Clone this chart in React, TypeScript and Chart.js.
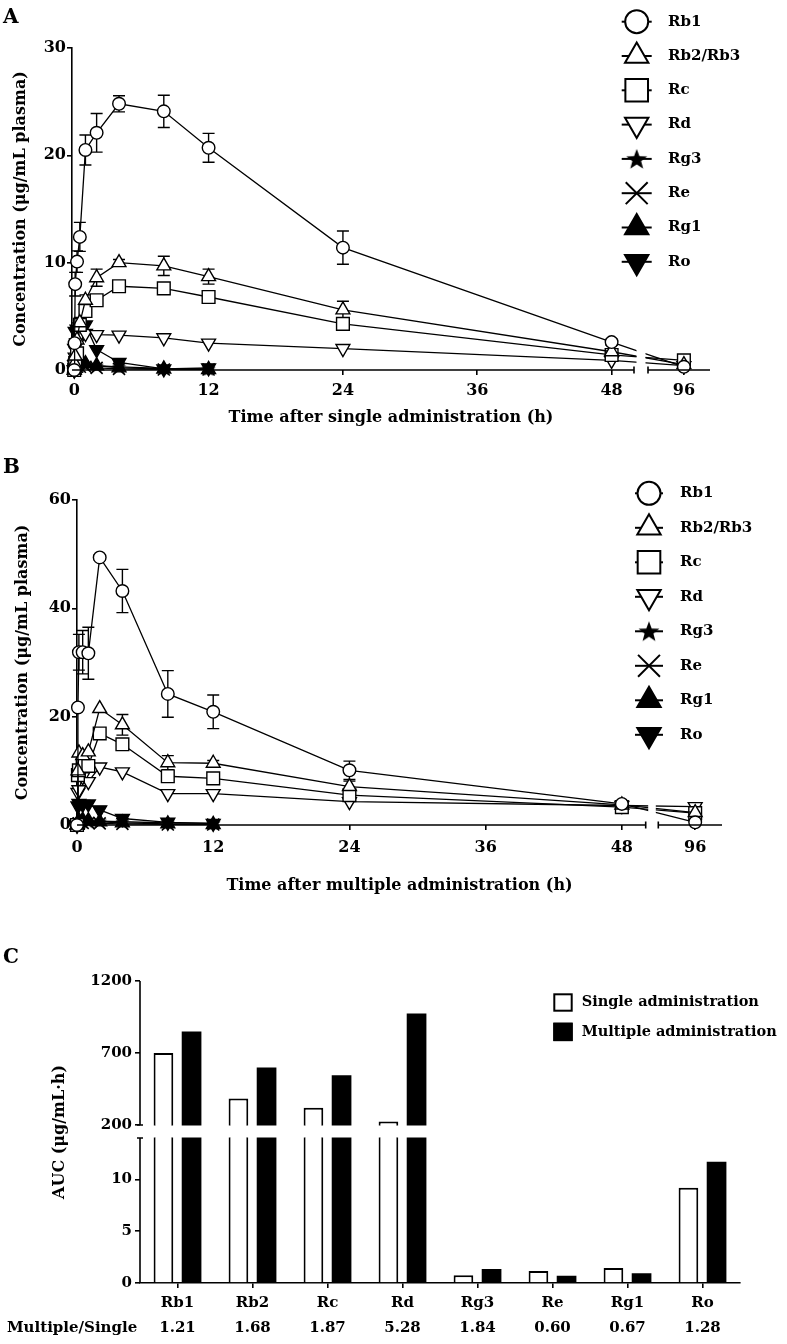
import React, { useEffect, useRef } from 'react';
import { Chart, registerables, LinearScale } from 'chart.js';
import { drawPoint } from 'chart.js/helpers';

Chart.register(...registerables);

// ---------------- data ----------------
const seriesNames = ['Rb1', 'Rb2/Rb3', 'Rc', 'Rd', 'Rg3', 'Re', 'Rg1', 'Ro'];

const timeTicks = [0, 12, 24, 36, 48, 96];

// Panel A: single administration
const timesA = [0, 0.033, 0.083, 0.25, 0.5, 1, 2, 4, 8, 12, 24, 48, 96];
const rb1A = [0, 2.5, 8.0, 10.1, 12.4, 20.5, 22.1, 24.8, 24.1, 20.7, 11.4, 2.6, 0.3];
const rb2A = [0, 0.6, 1.3, 2.8, 4.4, 6.5, 8.6, 10.0, 9.7, 8.7, 5.6, 1.7, 0.5];
const rcA = [0, 0.4, 0.65, 1.55, 4.2, 5.5, 6.5, 7.8, 7.6, 6.8, 4.3, 1.4, 0.9];
const rdA = [0, 0.5, 1.2, 2.5, 3.3, 3.4, 3.3, 3.25, 3.0, 2.5, 2.0, 0.9, 0.4];
const rg3A = [0, 0.1, 0.2, 0.3, 0.4, 0.5, 0.4, 0.3, 0.15, 0.1, null, null, null];
const reA = [0, 0.1, 0.2, 0.3, 0.3, 0.3, 0.2, 0.1, 0.05, 0.05, null, null, null];
const rg1A = [0, 0.2, 0.4, 0.5, 0.6, 0.6, 0.4, 0.2, 0.1, 0.05, null, null, null];
const roA = [0, 2.0, 3.6, 3.8, 4.0, 4.2, 1.9, 0.7, 0.1, 0.2, null, null, null];
const rb1ASd = [0, 0.4, 1.1, 1.0, 1.35, 1.4, 1.8, 0.75, 1.5, 1.35, 1.55, 0.3, 0.1];
const rb2ASd = [0, 0, 0, 0.3, 0.5, 0.5, 0.8, 0.3, 0.9, 0.7, 0.8, 0.2, 0.1];
const zeroA = [0, 0, 0, 0, 0, 0, 0, 0, 0, 0, 0, 0, 0];

// Panel B: multiple administration
const timesB = [0, 0.083, 0.167, 0.5, 1, 2, 4, 8, 12, 24, 48, 96];
const rb1B = [0, 21.7, 31.9, 31.9, 31.7, 49.4, 43.2, 24.2, 20.9, 10.1, 3.9, 0.5];
const rb2B = [0, 10.0, 13.3, 12.8, 13.5, 21.5, 18.5, 11.5, 11.4, 7.1, 3.7, 2.3];
const rcB = [0, 9.2, 10.1, 11.0, 10.9, 16.9, 14.9, 9.0, 8.6, 5.5, 3.3, 2.2];
const rdB = [0, 6.0, 6.5, 8.9, 8.0, 10.7, 9.8, 5.8, 5.8, 4.3, 3.6, 3.4];
const rg3B = [0, 0.3, 0.5, 0.6, 0.6, 0.7, 0.6, 0.4, 0.3, null, null, null];
const reB = [0, 0.2, 0.3, 0.4, 0.4, 0.3, 0.2, 0.1, 0.1, null, null, null];
const rg1B = [0, 0.5, 0.8, 0.9, 0.8, 0.6, 0.4, 0.2, 0.1, null, null, null];
const roB = [0, 3.5, 4.0, 3.8, 3.9, 2.8, 1.2, 0.5, 0.3, null, null, null];
const rb1BSd = [0, 0.5, 3.3, 4.0, 4.8, 0.5, 4.0, 4.3, 3.1, 1.7, 0.4, 0.1];
const rb2BSd = [0, 0, 0, 0, 0, 0, 1.9, 1.3, 0.5, 1.0, 0.3, 0.2];
const zeroB = [0, 0, 0, 0, 0, 0, 0, 0, 0, 0, 0, 0];

// Panel C: AUC
const aucCategories = ['Rb1', 'Rb2', 'Rc', 'Rd', 'Rg3', 'Re', 'Rg1', 'Ro'];
const aucSingle = [700, 385, 320, 225, 0.75, 1.15, 1.45, 9.2];
const aucMultiple = [850, 600, 545, 975, 1.35, 0.7, 0.95, 11.7];
const ratioLabels = ['1.21', '1.68', '1.87', '5.28', '1.84', '0.60', '0.67', '1.28'];
const aucTicks = [0, 5, 10, 200, 700, 1200];
const ratioRowTitle = 'Multiple/Single';

// ---------------- styling ----------------
const FONT = "'DejaVu Serif', serif";
Chart.defaults.font.family = FONT;
Chart.defaults.font.weight = 'bold';
Chart.defaults.color = '#000';

const markerStyles = [
  { style: 'circle', r: 6.3, lr: 11.5, rot: 0, fill: '#fff', bw: 1.4 },
  { style: 'triangle', r: 8, lr: 13.5, rot: 0, fill: '#fff', bw: 1.4 },
  { style: 'rect', r: 9, lr: 16, rot: 0, fill: '#fff', bw: 1.4 },
  { style: 'triangle', r: 8, lr: 13.5, rot: 180, fill: '#fff', bw: 1.4 },
  { style: 'star', r: 7, lr: 11, rot: 0, fill: '#000', bw: 1 },
  { style: 'crossRot', r: 8.5, lr: 15.5, rot: 0, fill: '#000', bw: 1.6 },
  { style: 'triangle', r: 8, lr: 13.5, rot: 0, fill: '#000', bw: 1.4 },
  { style: 'triangle', r: 8, lr: 13.5, rot: 180, fill: '#000', bw: 1.4 },
];

// ---------------- broken linear scale ----------------
class BrokenScale extends LinearScale {
  static id = 'broken';
  static defaults = LinearScale.defaults;
  getPixelForValue(value: any) {
    if (value === null || value === undefined || Number.isNaN(value)) return NaN;
    const segs = (this.options as any).segments;
    const a = segs[0];
    const b = segs[1];
    let dec: number;
    if (value <= a.max) dec = a.from + ((value - a.min) / (a.max - a.min)) * (a.to - a.from);
    else if (value >= b.min) dec = b.from + ((value - b.min) / (b.max - b.min)) * (b.to - b.from);
    else dec = a.to + ((value - a.max) / (b.min - a.max)) * (b.from - a.to);
    return this.getPixelForDecimal(dec);
  }
}
Chart.register(BrokenScale as any);

function makeStar(size: number) {
  const c = document.createElement('canvas');
  c.width = size;
  c.height = size;
  const g = c.getContext('2d')!;
  g.fillStyle = '#000';
  g.beginPath();
  const R = size / 2;
  const r = R * 0.42;
  const cx = size / 2;
  const cy = size / 2 + size * 0.04;
  for (let k = 0; k < 10; k++) {
    const ang = -Math.PI / 2 + (k * Math.PI) / 5;
    const rr = k % 2 === 0 ? R : r;
    const px = cx + rr * Math.cos(ang);
    const py = cy + rr * Math.sin(ang);
    if (k === 0) g.moveTo(px, py);
    else g.lineTo(px, py);
  }
  g.closePath();
  g.fill();
  return c;
}

// ---------------- plugins ----------------
const panelLetter = {
  id: 'panelLetter',
  afterDraw(chart: any, _a: any, o: any) {
    const ctx = chart.ctx;
    ctx.save();
    ctx.fillStyle = '#000';
    ctx.font = `bold ${o.size}px ${FONT}`;
    ctx.textAlign = 'left';
    ctx.textBaseline = 'alphabetic';
    ctx.fillText(o.text, o.x, o.y);
    ctx.restore();
  },
};

const symbolLegend = {
  id: 'symbolLegend',
  afterDraw(chart: any, _a: any, o: any) {
    const ctx = chart.ctx;
    ctx.save();
    chart.data.datasets.forEach((ds: any, i: number) => {
      const y = o.y0 + i * o.dy;
      ctx.strokeStyle = '#000';
      ctx.lineWidth = 2;
      ctx.beginPath();
      ctx.moveTo(o.x1, y);
      ctx.lineTo(o.x2, y);
      ctx.stroke();
      ctx.fillStyle = ds.pointBackgroundColor;
      ctx.strokeStyle = '#000';
      ctx.lineWidth = 2;
      drawPoint(ctx, { pointStyle: ds.legendStyle, radius: ds.legendRadius, rotation: ds.pointRotation || 0, borderWidth: 2 } as any, o.xs, y);
      ctx.fillStyle = '#000';
      ctx.font = `bold ${o.size}px ${FONT}`;
      ctx.textAlign = 'left';
      ctx.textBaseline = 'middle';
      ctx.fillText(ds.label, o.xt, y);
    });
    ctx.restore();
  },
};

const xBreak = {
  id: 'xBreak',
  beforeDatasetsDraw(chart: any) {
    const { ctx, width, height } = chart;
    const xs = chart.scales.x;
    const segs = xs.options.segments;
    const e1 = xs.getPixelForDecimal(segs[0].to);
    const s2 = xs.getPixelForDecimal(segs[1].from);
    ctx.save();
    ctx.beginPath();
    ctx.rect(0, 0, width, height);
    ctx.rect(e1 + 2.5, 0, s2 - e1 - 5, height);
    ctx.clip('evenodd');
    // error bars (drawn beneath the markers)
    const ys = chart.scales.y;
    ctx.strokeStyle = '#000';
    ctx.lineWidth = 1.4;
    chart.data.datasets.forEach((ds: any, i: number) => {
      if (!ds.sd) return;
      const meta = chart.getDatasetMeta(i);
      ds.data.forEach((pt: any, j: number) => {
        const sd = ds.sd[j];
        if (!sd || pt.y === null) return;
        const x = meta.data[j].x;
        const yt = ys.getPixelForValue(pt.y + sd);
        const yb = ys.getPixelForValue(pt.y - sd);
        ctx.beginPath();
        ctx.moveTo(x, yt);
        ctx.lineTo(x, yb);
        ctx.moveTo(x - 6, yt);
        ctx.lineTo(x + 6, yt);
        ctx.moveTo(x - 6, yb);
        ctx.lineTo(x + 6, yb);
        ctx.stroke();
      });
    });
  },
  afterDatasetsDraw(chart: any) {
    chart.ctx.restore();
  },
  afterDraw(chart: any) {
    const ctx = chart.ctx;
    const xs = chart.scales.x;
    const segs = xs.options.segments;
    const y = chart.chartArea.bottom;
    const e1 = xs.getPixelForDecimal(segs[0].to);
    const s2 = xs.getPixelForDecimal(segs[1].from);
    ctx.save();
    ctx.strokeStyle = '#000';
    ctx.lineWidth = 1.6;
    ctx.beginPath();
    ctx.moveTo(xs.left, y);
    ctx.lineTo(e1, y);
    ctx.moveTo(s2, y);
    ctx.lineTo(xs.right, y);
    ctx.moveTo(e1, y - 3.5);
    ctx.lineTo(e1, y + 3.5);
    ctx.moveTo(s2, y - 3.5);
    ctx.lineTo(s2, y + 3.5);
    ctx.stroke();
    ctx.restore();
  },
};

const yBreak = {
  id: 'yBreak',
  beforeDatasetsDraw(chart: any) {
    const { ctx, width, height } = chart;
    const ys = chart.scales.y;
    const segs = ys.options.segments;
    const yTop = ys.getPixelForDecimal(segs[1].from);
    const yBot = ys.getPixelForDecimal(segs[0].to);
    ctx.save();
    ctx.beginPath();
    ctx.rect(0, 0, width, height);
    ctx.rect(0, yTop + 0.5, width, yBot - yTop - 1);
    ctx.clip('evenodd');
  },
  afterDatasetsDraw(chart: any) {
    chart.ctx.restore();
  },
  afterDraw(chart: any) {
    const ctx = chart.ctx;
    const ys = chart.scales.y;
    const segs = ys.options.segments;
    const yTop = ys.getPixelForDecimal(segs[1].from);
    const yBot = ys.getPixelForDecimal(segs[0].to);
    const x = chart.chartArea.left;
    ctx.save();
    ctx.strokeStyle = '#000';
    ctx.lineWidth = 1.6;
    ctx.beginPath();
    ctx.moveTo(x, ys.bottom);
    ctx.lineTo(x, yBot);
    ctx.moveTo(x, yTop);
    ctx.lineTo(x, ys.top);
    ctx.moveTo(x - 3, yBot);
    ctx.lineTo(x + 3, yBot);
    ctx.moveTo(x - 3, yTop);
    ctx.lineTo(x + 3, yTop);
    ctx.stroke();
    ctx.restore();
  },
};

const barLegend = {
  id: 'barLegend',
  afterDraw(chart: any, _a: any, o: any) {
    const ctx = chart.ctx;
    ctx.save();
    chart.data.datasets.forEach((ds: any, i: number) => {
      const top = o.y0 + i * o.dy;
      ctx.fillStyle = ds.backgroundColor;
      ctx.fillRect(o.x, top, o.w, o.h);
      ctx.strokeStyle = '#000';
      ctx.lineWidth = 2;
      ctx.strokeRect(o.x + 1, top + 1, o.w - 2, o.h - 2);
      ctx.fillStyle = '#000';
      ctx.font = `bold ${o.size}px ${FONT}`;
      ctx.textAlign = 'left';
      ctx.textBaseline = 'middle';
      ctx.fillText(ds.label, o.xt, top + o.h / 2);
    });
    ctx.restore();
  },
};

const rowLabel = {
  id: 'rowLabel',
  afterDraw(chart: any, _a: any, o: any) {
    const ctx = chart.ctx;
    ctx.save();
    ctx.fillStyle = '#000';
    ctx.font = `bold ${o.size}px ${FONT}`;
    ctx.textAlign = 'left';
    ctx.textBaseline = 'middle';
    ctx.fillText(o.text, o.x, chart.chartArea.bottom + o.dy);
    ctx.restore();
  },
};

// ---------------- config builders ----------------
function makeDatasets(times: number[], values: any[][], sds: number[][], starSmall: any, starBig: any) {
  return seriesNames.map((name, k) => {
    const st = markerStyles[k];
    return {
      label: name,
      data: times.map((t, j) => ({ x: t, y: values[k][j] })),
      borderColor: '#000',
      borderWidth: 1.3,
      backgroundColor: st.fill,
      pointStyle: st.style === 'star' ? starSmall : st.style,
      pointRadius: st.r,
      pointRotation: st.rot,
      pointBorderColor: '#000',
      pointBorderWidth: st.bw,
      pointBackgroundColor: st.fill,
      clip: false,
      tension: 0,
      spanGaps: false,
      sd: sds[k],
      legendStyle: st.style === 'star' ? starBig : st.style,
      legendRadius: st.lr,
    };
  });
}

function lineConfig(p: any) {
  const tickFont = { family: FONT, size: 16, weight: 'bold' };
  return {
    type: 'line',
    data: { datasets: p.datasets },
    options: {
      responsive: false,
      animation: false,
      events: [],
      layout: { padding: p.padding },
      plugins: {
        legend: { display: false },
        tooltip: { enabled: false },
        symbolLegend: p.legend,
        panelLetter: p.letter,
      },
      scales: {
        x: {
          type: 'broken',
          min: p.xSegments[0].min,
          max: p.xSegments[1].max,
          segments: p.xSegments,
          afterBuildTicks: (s: any) => {
            s.ticks = timeTicks.map((v) => ({ value: v }));
          },
          afterFit: (s: any) => {
            s.height = p.xHeight;
          },
          border: { display: false },
          grid: { display: true, drawOnChartArea: false, drawTicks: true, tickLength: 5, color: '#000', lineWidth: 1.6 },
          ticks: { font: tickFont, color: '#000', padding: p.xTickPad, autoSkip: false, maxRotation: 0, callback: (v: any) => String(v) },
          title: { display: true, text: p.xTitle, font: tickFont, color: '#000', padding: { top: 0, bottom: p.xTitlePad } },
        },
        y: {
          type: 'linear',
          min: 0,
          max: p.yMax,
          afterBuildTicks: (s: any) => {
            s.ticks = p.yTicks.map((v: number) => ({ value: v }));
          },
          afterFit: (s: any) => {
            s.width = p.yWidth;
          },
          border: { display: true, color: '#000', width: 1.6 },
          grid: { display: true, drawOnChartArea: false, drawTicks: true, tickLength: 5, color: '#000', lineWidth: 1.6 },
          ticks: { font: tickFont, color: '#000', padding: 1, autoSkip: false, callback: (v: any) => String(v) },
          title: { display: true, text: 'Concentration (μg/mL plasma)', font: tickFont, color: '#000', padding: { top: p.yTitlePad, bottom: 0 } },
        },
      },
    },
    plugins: [xBreak, symbolLegend, panelLetter],
  } as any;
}

function barConfig() {
  return {
    type: 'bar',
    data: {
      labels: aucCategories,
      datasets: [
        { label: 'Single administration', data: aucSingle, backgroundColor: '#fff', borderColor: '#000', borderWidth: 2 },
        { label: 'Multiple administration', data: aucMultiple, backgroundColor: '#000', borderColor: '#000', borderWidth: 0 },
      ],
    },
    options: {
      responsive: false,
      animation: false,
      events: [],
      layout: { padding: { left: 0, top: 46, right: 47, bottom: 0 } },
      datasets: { bar: { categoryPercentage: 0.75, barPercentage: 0.7 } },
      plugins: {
        legend: { display: false },
        tooltip: { enabled: false },
        panelLetter: { text: 'C', x: 3, y: 28, size: 20 },
        barLegend: { x: 553.3, w: 19.4, h: 18.4, y0: 58.3, dy: 29.4, xt: 581.7, size: 14.5 },
        rowLabel: { text: ratioRowTitle, x: 7, dy: 45, size: 15 },
      },
      scales: {
        x: {
          type: 'category',
          offset: true,
          afterFit: (s: any) => {
            s.height = 61;
          },
          border: { display: true, color: '#000', width: 1.6 },
          grid: { display: true, offset: false, drawOnChartArea: false, drawTicks: true, tickLength: 5, color: '#000', lineWidth: 1.6 },
          ticks: {
            font: { family: FONT, size: 15, weight: 'bold', lineHeight: 1.667 },
            color: '#000',
            padding: 2.5,
            autoSkip: false,
            maxRotation: 0,
            callback: (_v: any, i: number) => [aucCategories[i], ratioLabels[i]],
          },
        },
        y: {
          type: 'broken',
          min: 0,
          max: 1200,
          segments: [
            { min: 0, max: 14, from: 0, to: 0.48 },
            { min: 200, max: 1200, from: 0.523, to: 1 },
          ],
          afterBuildTicks: (s: any) => {
            s.ticks = aucTicks.map((v) => ({ value: v }));
          },
          afterFit: (s: any) => {
            s.width = 140;
          },
          border: { display: false },
          grid: { display: true, drawOnChartArea: false, drawTicks: true, tickLength: 5, color: '#000', lineWidth: 1.6 },
          ticks: { font: { family: FONT, size: 15, weight: 'bold' }, color: '#000', padding: 3, autoSkip: false, callback: (v: any) => String(v) },
          title: { display: true, text: 'AUC (μg/mL·h)', font: { family: FONT, size: 16, weight: 'bold' }, color: '#000', padding: { top: 50, bottom: 0 } },
        },
      },
    },
    plugins: [yBreak, barLegend, rowLabel, panelLetter],
  } as any;
}

export default function App() {
  const refA = useRef<HTMLCanvasElement>(null);
  const refB = useRef<HTMLCanvasElement>(null);
  const refC = useRef<HTMLCanvasElement>(null);

  useEffect(() => {
    const starSmall = makeStar(15);
    const starBig = makeStar(22);

    const dsA = makeDatasets(
      timesA,
      [rb1A, rb2A, rcA, rdA, rg3A, reA, rg1A, roA],
      [rb1ASd, rb2ASd, zeroA, zeroA, zeroA, zeroA, zeroA, zeroA],
      starSmall,
      starBig
    );
    const dsB = makeDatasets(
      timesB,
      [rb1B, rb2B, rcB, rdB, rg3B, reB, rg1B, roB],
      [rb1BSd, rb2BSd, zeroB, zeroB, zeroB, zeroB, zeroB, zeroB],
      starSmall,
      starBig
    );

    const chartA = new Chart(
      refA.current!,
      lineConfig({
        datasets: dsA,
        padding: { left: 0, top: 48, right: 77, bottom: 0 },
        xSegments: [
          { min: -0.2, max: 50, from: 0, to: 562 / 638 },
          { min: 90.5, max: 100, from: 576 / 638, to: 1 },
        ],
        xHeight: 70,
        xTickPad: 6,
        xTitle: 'Time after single administration (h)',
        xTitlePad: 13,
        yMax: 30,
        yTicks: [0, 10, 20, 30],
        yWidth: 72,
        yTitlePad: 11,
        legend: { x1: 621.7, x2: 651.7, xs: 636.7, xt: 668, y0: 21.7, dy: 34.3, size: 15 },
        letter: { text: 'A', x: 3, y: 23, size: 20 },
      })
    );

    const chartB = new Chart(
      refB.current!,
      lineConfig({
        datasets: dsB,
        padding: { left: 0, top: 55, right: 65, bottom: 0 },
        xSegments: [
          { min: 0, max: 50.1, from: 0, to: 568.7 / 645 },
          { min: 90.5, max: 100, from: 581.3 / 645, to: 1 },
        ],
        xHeight: 75,
        xTickPad: 8,
        xTitle: 'Time after multiple administration (h)',
        xTitlePad: 4.4,
        yMax: 60,
        yTicks: [0, 20, 40, 60],
        yWidth: 77,
        yTitlePad: 13,
        legend: { x1: 635, x2: 663, xs: 649, xt: 680, y0: 48.3, dy: 34.5, size: 15 },
        letter: { text: 'B', x: 3, y: 28, size: 20 },
      })
    );

    const chartC = new Chart(refC.current!, barConfig());

    return () => {
      chartA.destroy();
      chartB.destroy();
      chartC.destroy();
    };
  }, []);

  return (
    <div style={{ position: 'absolute', left: 0, top: 0, width: 787, height: 1344, background: '#fff' }}>
      <canvas ref={refA} width={787} height={440} style={{ position: 'absolute', left: 0, top: 0 }} />
      <canvas ref={refB} width={787} height={455} style={{ position: 'absolute', left: 0, top: 445 }} />
      <canvas ref={refC} width={787} height={409} style={{ position: 'absolute', left: 0, top: 935 }} />
    </div>
  );
}
